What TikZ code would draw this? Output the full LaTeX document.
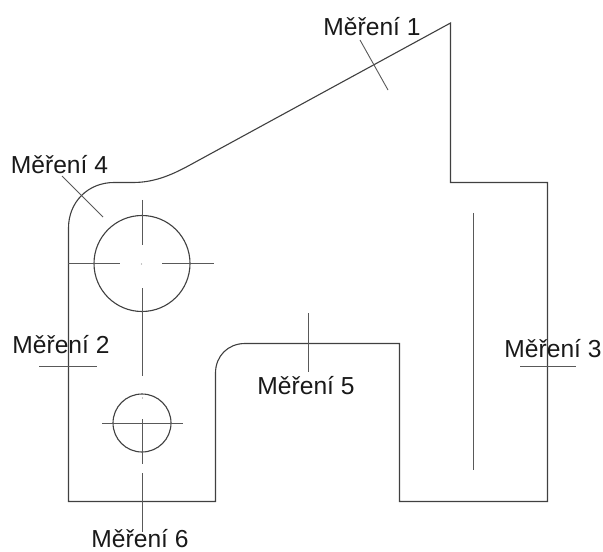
\documentclass[tikz,border=0pt]{standalone}
\usepackage{fontspec}
\setmainfont{Liberation Sans}
\begin{document}
\begin{tikzpicture}[x=1bp,y=-1bp,
  outline/.style={draw=black!75,line width=1.1bp},
  thin line/.style={draw=black!65,line width=0.9bp},
  center mark/.style={fill=black!45,draw=none},
  label/.style={font=\fontsize{24.6bp}{28bp}\selectfont,text=black!90,inner sep=0pt,anchor=center}]
\useasboundingbox (0,0) rectangle (603,552);
\fill[white] (0,0) rectangle (603,552);
\draw[outline,line join=miter]
  (450.5,23) -- (450.5,182.5) -- (547.5,182.5) -- (547.5,501.5) -- (399.5,501.5) -- (399.5,343.5) -- (245,343.5)
  .. controls (228,343.5) and (215.5,356) .. (215.5,373)
  -- (215.5,501.5) -- (68.5,501.5) -- (68.5,228)
  .. controls (68.5,202) and (88,182.5) .. (114,182.5)
  -- (133,182.5)
  .. controls (153,182.5) and (170,176) .. (190,165)
  -- cycle;
\draw[outline] (142,263.5) circle[radius=48];
\draw[outline] (142,423) circle[radius=29];
\draw[thin line] (68,263.5) -- (120,263.5);
\draw[thin line] (162,263.5) -- (214,263.5);
\draw[thin line] (142.5,200) -- (142.5,245);
\draw[thin line] (142.5,288) -- (142.5,376);
\draw[thin line] (102,423.5) -- (183,423.5);
\draw[thin line] (142.5,419) -- (142.5,464);
\draw[thin line] (142.5,473) -- (142.5,532);
\draw[thin line] (360,40) -- (388,90);
\draw[thin line] (62,176) -- (103,217);
\draw[thin line] (39,366.5) -- (97,366.5);
\draw[thin line] (520,366.5) -- (576,366.5);
\draw[thin line] (308.5,313) -- (308.5,372);
\draw[thin line] (473.5,213) -- (473.5,470);
\fill[center mark] (141.5,264) circle[radius=0.7];
\fill[center mark] (142.5,398) circle[radius=0.7];
\node[label] (m1) at (372,27) {Měření 1};
\node[label] (m4) at (59.5,165) {Měření 4};
\node[label] (m2) at (61,345) {Měření 2};
\node[label] (m3) at (553,349) {Měření 3};
\node[label] (m5) at (306,386) {Měření 5};
\node[label] (m6) at (140,538.5) {Měření 6};
\end{tikzpicture}
\end{document}
